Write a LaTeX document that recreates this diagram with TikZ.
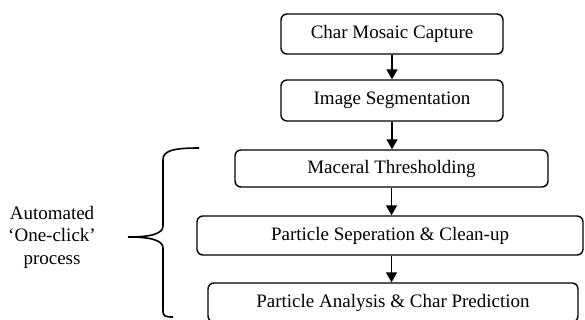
\documentclass[tikz,border=0pt]{standalone}
\usepackage{fontspec}
\setmainfont{Liberation Serif}
\usetikzlibrary{arrows.meta}

\tikzset{
  stagebox/.style={draw, line width=1.4pt, rounded corners=6pt, inner sep=0pt,
    font=\fontsize{19}{22}\selectfont},
  stagearrow/.style={line width=1.4pt, -{Triangle[length=10pt,width=11pt]}}
}

\begin{document}
\begin{tikzpicture}[x=1pt,y=-1pt]
  \useasboundingbox (0,0) rectangle (585,320);
  % processing stages
  \node[stagebox, minimum width=222pt, minimum height=40pt] (capture) at (392,34) {Char Mosaic Capture};
  \node[stagebox, minimum width=222pt, minimum height=41pt] (segment) at (392,100.5) {Image Segmentation};
  \node[stagebox, minimum width=313pt, minimum height=37pt] (thresh) at (391.5,168.5) {Maceral Thresholding};
  \node[stagebox, minimum width=386pt, minimum height=39pt] (separate) at (390,235.5) {Particle Seperation \& Clean-up};
  \node[stagebox, minimum width=370pt, minimum height=39pt] (analysis) at (393,302.5) {Particle Analysis \& Char Prediction};
  \draw[stagearrow] (capture.south) -- (capture.south |- segment.north);
  \draw[stagearrow] (segment.south) -- (segment.south |- thresh.north);
  \draw[stagearrow] (thresh.south) -- (thresh.south |- separate.north);
  \draw[stagearrow] (thresh.south |- separate.south) -- (thresh.south |- analysis.north);
  % brace and label
  \draw[line width=1.6pt] (199,148) .. controls (172,148) and (163,151) .. (163,160) -- (163,226)
    .. controls (163,234) and (150,237) .. (128,237);
  \draw[line width=1.6pt] (128,237) .. controls (150,237) and (163,240) .. (163,248) -- (163,311)
    .. controls (163,316) and (165,317) .. (173,317);
  \node[align=center, font=\fontsize{19}{22.5}\selectfont] (auto) at (52,237) {Automated\\`One-click'\\process};
\end{tikzpicture}
\end{document}
